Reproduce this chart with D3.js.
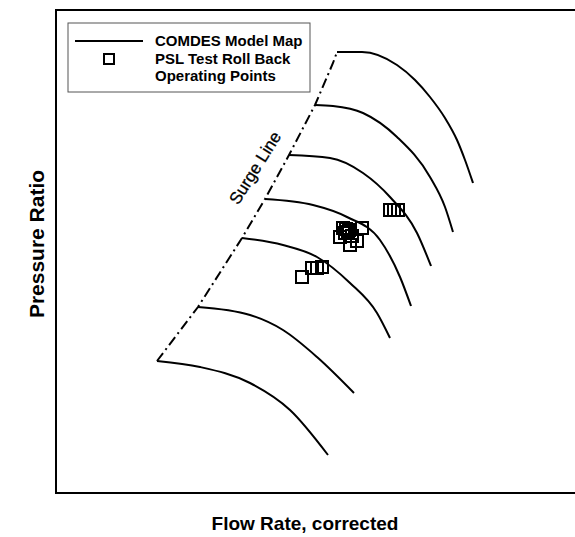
<!DOCTYPE html>
<html><head><meta charset="utf-8">
<script src="https://cdn.jsdelivr.net/npm/d3@7"></script>
<style>body{margin:0;background:#fff}svg{display:block}</style>
</head><body>
<script>
// Speed lines (corrected flow, pressure ratio) in arbitrary chart units
const speedLineFlow = [
  [56.2, 61.2, 68.2, 71.8, 74.8, 77.8, 80.2, 81.8, 83.4],
  [51.8, 55.4, 61.4, 68.2, 74.8, 77.8, 79.4],
  [46.6, 54.8, 61.4, 66.8, 72.2, 75.0],
  [41.8, 51.4, 58.2, 64.8, 68.8, 71.0],
  [37.2, 45.4, 52.2, 58.8, 64.2, 66.8],
  [28.4, 38.8, 45.4, 52.2, 59.6],
  [20.2, 28.8, 38.8, 46.8, 54.4]
];
const speedLinePR = [
  [88.2, 88.2, 85.6, 82.6, 79.2, 75.0, 70.6, 66.6, 62.0],
  [77.6, 77.4, 76.0, 71.2, 63.2, 57.2, 52.2],
  [67.6, 67.0, 64.0, 59.2, 52.0, 45.4],
  [58.8, 57.6, 55.2, 50.6, 43.2, 37.4],
  [51.0, 49.6, 47.2, 42.0, 36.0, 31.0],
  [37.2, 35.6, 32.6, 27.2, 20.0],
  [26.4, 25.2, 22.0, 16.6, 7.6]
];
// Surge line
const surgeFlow = [20.2, 28.4, 37.2, 41.8, 46.6, 51.8, 55.4, 56.2];
const surgePR   = [26.4, 37.2, 51.0, 58.8, 67.6, 77.6, 86.0, 88.2];
// PSL test roll back operating points
const pointFlow = [49.2, 51.2, 52.2, 53.2,
  57.4, 58.0, 58.6, 57.8, 58.4, 61.2, 56.8, 58.8, 60.2, 59.2,
  66.8, 67.6, 68.4];
const pointPR = [43.2, 45.0, 45.0, 45.2,
  53.0, 52.8, 52.6, 52.0, 52.2, 53.0, 51.2, 49.6, 50.4, 51.4,
  56.6, 56.6, 56.6];
const legendLabels = ["COMDES Model Map", "PSL Test Roll Back", "Operating Points"];
const xTitle = "Flow Rate, corrected";
const yTitle = "Pressure Ratio";
const surgeLabel = "Surge Line";

const W = 575, H = 537;
const svg = d3.select("body").append("svg").attr("width", W).attr("height", H);
const x = d3.scaleLinear().domain([0, 104]).range([56, 576]);
const y = d3.scaleLinear().domain([0, 96.6]).range([493, 10]);
const font = "'Liberation Sans', Arial, sans-serif";

// frame
svg.append("rect").attr("x", x(0)).attr("y", y(96.6)).attr("width", 560).attr("height", y(0) - y(96.6))
  .attr("fill", "none").attr("stroke", "#000").attr("stroke-width", 2);

const line = d3.line().x(d => x(d[0])).y(d => y(d[1])).curve(d3.curveMonotoneX);
speedLineFlow.forEach((fl, i) => {
  const pts = fl.map((f, j) => [f, speedLinePR[i][j]]);
  svg.append("path").attr("d", line(pts)).attr("fill", "none")
    .attr("stroke", "#000").attr("stroke-width", 2);
});

const surgePts = surgeFlow.map((f, j) => [f, surgePR[j]]);
svg.append("path").attr("d", d3.line().x(d => x(d[0])).y(d => y(d[1]))(surgePts))
  .attr("fill", "none").attr("stroke", "#000").attr("stroke-width", 2)
  .attr("stroke-dasharray", "10,4,2,4");

// surge label
svg.append("text").attr("transform", `translate(${x(40.8)},${y(64.4)}) rotate(-58)`)
  .attr("text-anchor", "middle").attr("font-family", font).attr("font-size", 17)
  .attr("stroke", "#000").attr("stroke-width", 0.3)
  .text(surgeLabel);

// points
const S = 12;
svg.append("g").selectAll("rect").data(pointFlow.map((f, i) => [f, pointPR[i]])).join("rect")
  .attr("x", d => x(d[0]) - S / 2).attr("y", d => y(d[1]) - S / 2)
  .attr("width", S).attr("height", S).attr("fill", "none")
  .attr("stroke", "#000").attr("stroke-width", 2);

// legend
const lg = svg.append("g");
lg.append("rect").attr("x", 68).attr("y", 23).attr("width", 242).attr("height", 69)
  .attr("fill", "#fff").attr("stroke", "#555").attr("stroke-width", 1);
lg.append("line").attr("x1", 75).attr("x2", 143).attr("y1", 41).attr("y2", 41)
  .attr("stroke", "#000").attr("stroke-width", 2);
lg.append("rect").attr("x", 104).attr("y", 54).attr("width", 10).attr("height", 10)
  .attr("fill", "none").attr("stroke", "#000").attr("stroke-width", 2);
legendLabels.forEach((t, i) => {
  lg.append("text").attr("x", 155).attr("y", 46 + i * 17.5)
    .attr("font-family", font).attr("font-weight", "bold").attr("font-size", 15).text(t);
});

// axis titles
svg.append("text").attr("x", 305).attr("y", 530).attr("text-anchor", "middle")
  .attr("font-family", font).attr("font-weight", "bold").attr("font-size", 19).text(xTitle);
svg.append("text").attr("transform", "translate(44,244) rotate(-90)").attr("text-anchor", "middle")
  .attr("font-family", font).attr("font-weight", "bold").attr("font-size", 21).text(yTitle);
</script>
</body></html>
